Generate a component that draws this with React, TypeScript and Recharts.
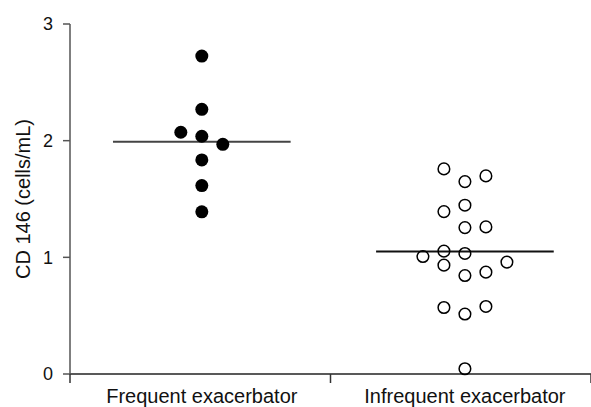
import React from "react"
import { ScatterChart, Scatter, XAxis, YAxis, ReferenceLine } from "recharts"

// group names and where each group's column sits on the 0..2 x scale
const groups = ["Frequent exacerbator", "Infrequent exacerbator"]
const groupX = [0.506, 1.516]
const slotStep = 0.0806

// values, by group, with column slot (-2..2) of the dot
const frequentValues = [2.725, 2.269, 2.072, 2.038, 1.969, 1.835, 1.615, 1.39]
const frequentSlots = [0, 0, -1, 0, 1, 0, 0, 0]

const infrequentValues = [
  1.758, 1.649, 1.698, 1.447, 1.392, 1.255, 1.261, 1.007, 1.053, 1.033, 0.933, 0.959, 0.844, 0.873, 0.57,
  0.579, 0.514, 0.045,
]
const infrequentSlots = [-1, 0, 1, 0, -1, 0, 1, -2, -1, 0, -1, 2, 0, 1, -1, 1, 0, 0]

// median bars
const medians = [1.99, 1.05]
const medianHalfWidth = 0.341

const yTicks = [0, 1, 2, 3]

const toPoints = (values: number[], slots: number[], g: number) =>
  values.map((v, i) => ({ x: groupX[g] + slots[i] * slotStep, y: v }))

const frequentData = toPoints(frequentValues, frequentSlots, 0)
const infrequentData = toPoints(infrequentValues, infrequentSlots, 1)

const font = '"Liberation Sans", Arial, sans-serif'

const XTick = (props: any) => {
  const { x, y, payload } = props
  const g = groupX.indexOf(payload.value)
  if (g >= 0) {
    return (
      <text x={x} y={y + 29} textAnchor="middle" fontSize={20} fontFamily={font} fill="#111">
        {groups[g]}
      </text>
    )
  }
  return <line x1={x} x2={x} y1={y} y2={y + 9} stroke="#333" strokeWidth={1.5} />
}

const FilledDot = (p: any) => <circle cx={p.cx} cy={p.cy} r={6.5} fill="#000" />
const OpenDot = (p: any) => <circle cx={p.cx} cy={p.cy} r={5.8} fill="none" stroke="#000" strokeWidth={1.5} />

export default function App() {
  return (
    <div style={{ position: "absolute", left: 0, top: 0, width: 591, height: 407, background: "#fff" }}>
      <ScatterChart width={591} height={407} margin={{ top: 24, right: 0, bottom: 0, left: 0 }}>
        <XAxis
          type="number"
          dataKey="x"
          domain={[0, 2]}
          ticks={[0, groupX[0], 1, groupX[1], 2]}
          interval={0}
          height={33}
          tickLine={false}
          tickSize={0}
          tickMargin={0}
          tick={<XTick />}
          stroke="#222"
          strokeWidth={1.5}
        />
        <YAxis
          type="number"
          dataKey="y"
          domain={[0, 3]}
          ticks={yTicks}
          width={70}
          tickSize={7}
          tickMargin={10}
          stroke="#555"
          strokeWidth={1.5}
          tick={{ fontSize: 18, fontFamily: font, fill: "#111" }}
          label={{
            value: "CD 146 (cells/mL)",
            angle: -90,
            position: "insideLeft",
            offset: 23,
            style: { textAnchor: "middle", fontSize: 20, fontFamily: font, fill: "#111" },
          }}
        />
        {medians.map((m, i) => (
          <ReferenceLine
            key={i}
            segment={[
              { x: groupX[i] - medianHalfWidth, y: m },
              { x: groupX[i] + medianHalfWidth, y: m },
            ]}
            stroke={i === 0 ? "#444" : "#111"}
            strokeWidth={2}
            ifOverflow="visible"
          />
        ))}
        <Scatter data={frequentData} shape={FilledDot} isAnimationActive={false} />
        <Scatter data={infrequentData} shape={OpenDot} isAnimationActive={false} />
      </ScatterChart>
    </div>
  )
}
